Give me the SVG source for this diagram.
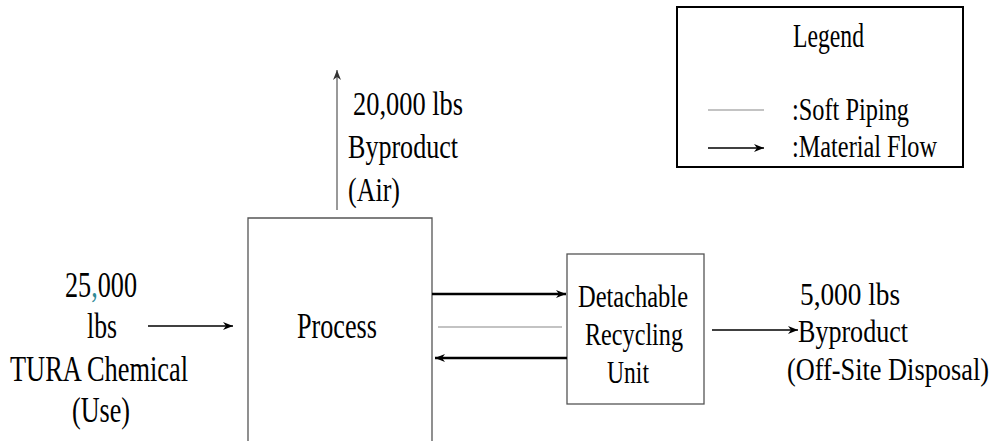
<svg xmlns="http://www.w3.org/2000/svg" width="995" height="441" viewBox="0 0 995 441">
  <style>
    .tx { font-family: 'Liberation Serif', 'Times New Roman', serif; fill: #000; }
    .t35 { font-size: 36px; }
    .t33 { font-size: 34px; }
    .t31 { font-size: 32px; }
    .box { fill: #fff; stroke: #555; stroke-width: 1.3; }
    .flow { stroke: #000; stroke-width: 1.3; fill: none; }
    .bold { stroke: #000; stroke-width: 2.4; fill: none; }
    .pipe { stroke: #888; stroke-width: 1.2; fill: none; }
    .air { stroke: #777; stroke-width: 1.5; fill: none; }
  </style>
  <defs>
    <marker id="ah" markerUnits="userSpaceOnUse" markerWidth="10" markerHeight="8" refX="10" refY="4" orient="auto">
      <path d="M0,0 L10,4 L0,8 L3,4 z" fill="#000"/>
    </marker>
    <marker id="ahg" markerUnits="userSpaceOnUse" markerWidth="10" markerHeight="8" refX="10" refY="4" orient="auto">
      <path d="M0,0 L10,4 L0,8 L3,4 z" fill="#333"/>
    </marker>
  </defs>

  <rect width="995" height="441" fill="#fff"/>

  <g id="process">
    <path class="box" d="M248,445 V218 H432 V445"/>
    <text class="tx t35" x="297" y="338" textLength="80" lengthAdjust="spacingAndGlyphs">Process</text>
  </g>

  <g id="recycling-unit">
    <rect class="box" x="567" y="254" width="137" height="150"/>
    <text class="tx t31" x="578" y="307" textLength="110" lengthAdjust="spacingAndGlyphs">Detachable</text>
    <text class="tx t31" x="585" y="345" textLength="98" lengthAdjust="spacingAndGlyphs">Recycling</text>
    <text class="tx t31" x="607" y="383" textLength="42" lengthAdjust="spacingAndGlyphs">Unit</text>
  </g>

  <g id="input-label">
    <text class="tx t35" x="65" y="297" textLength="72" lengthAdjust="spacingAndGlyphs">25<tspan fill="#2f8a96">,</tspan>000</text>
    <text class="tx t35" x="87" y="338" textLength="30" lengthAdjust="spacingAndGlyphs">lbs</text>
    <text class="tx t35" x="10" y="381" textLength="178" lengthAdjust="spacingAndGlyphs">TURA Chemical</text>
    <text class="tx t35" x="72" y="422" textLength="58" lengthAdjust="spacingAndGlyphs">(Use)</text>
  </g>

  <g id="air-label">
    <text class="tx t33" x="353" y="115" textLength="110" lengthAdjust="spacingAndGlyphs">20,000 lbs</text>
    <text class="tx t33" x="348" y="158" textLength="110" lengthAdjust="spacingAndGlyphs">Byproduct</text>
    <text class="tx t33" x="348" y="201" textLength="52" lengthAdjust="spacingAndGlyphs">(Air)</text>
  </g>

  <g id="disposal-label">
    <text class="tx t31" x="800" y="305" textLength="100" lengthAdjust="spacingAndGlyphs">5,000 lbs</text>
    <text class="tx t31" x="798" y="342" textLength="110" lengthAdjust="spacingAndGlyphs">Byproduct</text>
    <text class="tx t31" x="787" y="380" textLength="202" lengthAdjust="spacingAndGlyphs">(Off-Site Disposal)</text>
  </g>

  <g id="legend">
    <rect x="677" y="7" width="286" height="160" fill="#fff" stroke="#000" stroke-width="2"/>
    <text class="tx t33" x="793" y="47" textLength="71" lengthAdjust="spacingAndGlyphs">Legend</text>
    <line class="pipe" x1="708" y1="110" x2="764" y2="110"/>
    <text class="tx t31" x="792" y="120" textLength="117" lengthAdjust="spacingAndGlyphs">:Soft Piping</text>
    <line class="flow" x1="708" y1="148" x2="764" y2="148" marker-end="url(#ah)"/>
    <text class="tx t31" x="792" y="157" textLength="145" lengthAdjust="spacingAndGlyphs">:Material Flow</text>
  </g>

  <g id="connectors">
    <line class="flow" x1="148" y1="326" x2="233" y2="326" marker-end="url(#ah)"/>
    <line class="air" x1="337" y1="210" x2="337" y2="70" marker-end="url(#ahg)"/>
    <line class="bold" x1="432" y1="294" x2="566" y2="294" marker-end="url(#ah)"/>
    <line class="pipe" x1="438" y1="327" x2="562" y2="327"/>
    <line class="bold" x1="567" y1="358" x2="435" y2="358" marker-end="url(#ah)"/>
    <line class="flow" x1="712" y1="330" x2="798" y2="330" marker-end="url(#ah)"/>
  </g>
</svg>
